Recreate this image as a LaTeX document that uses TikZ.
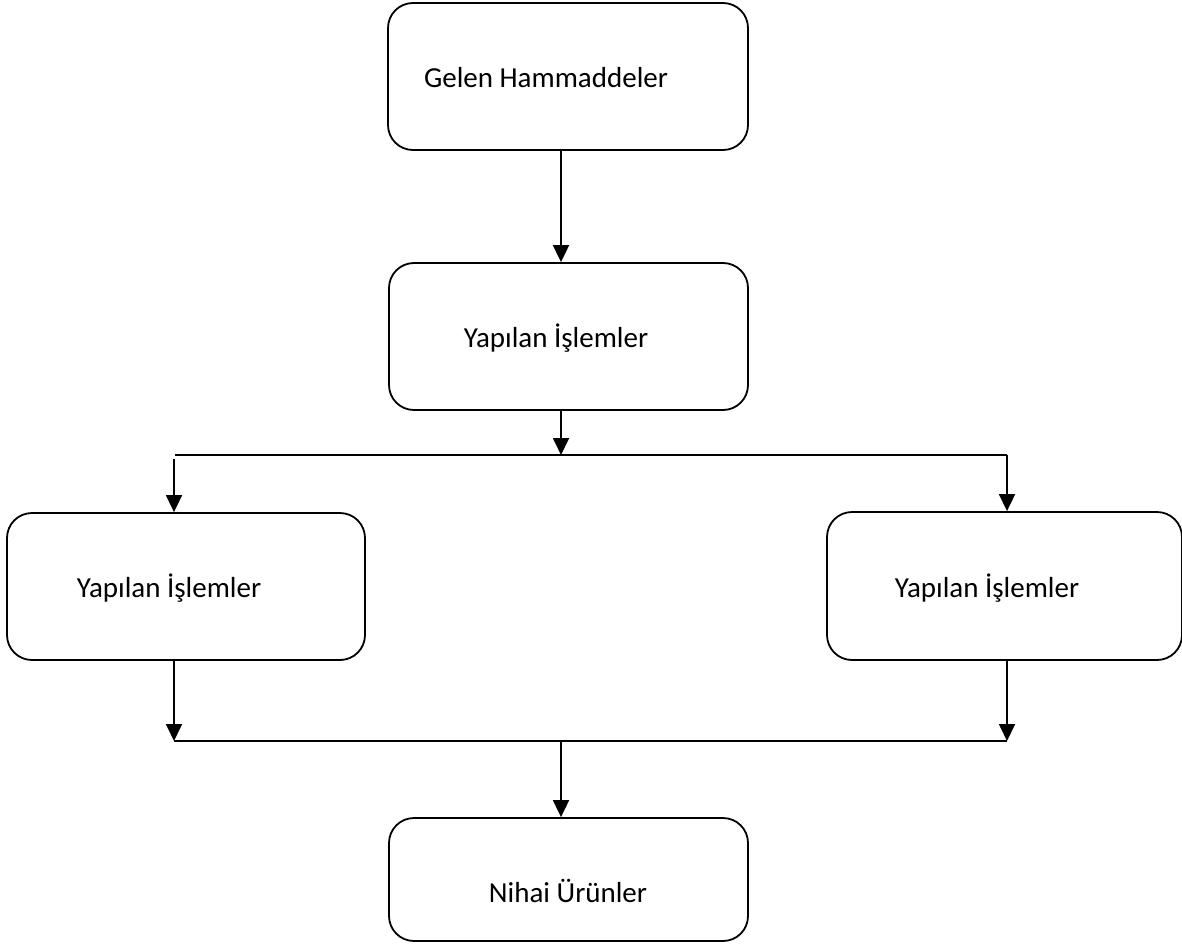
\documentclass[tikz,border=0pt]{standalone}
\usepackage{fontspec}
\setmainfont{Carlito}
\usetikzlibrary{arrows.meta}
\begin{document}
\begin{tikzpicture}[x=1pt,y=-1pt,
  box/.style={draw,line width=1.8pt,rounded corners=25pt,inner sep=0pt},
  lbl/.style={font=\fontsize{29}{35}\selectfont,inner sep=0pt},
  conn/.style={line width=1.8pt},
  arr/.style={line width=1.8pt,-{Triangle[width=16pt,length=17pt]}}]
\useasboundingbox (0,0) rectangle (1182,944);
\node[box,minimum width=360pt,minimum height=147pt] (b1) at (568,76.5) {};
\node[box,minimum width=359pt,minimum height=147pt] (b2) at (568.5,336.5) {};
\node[box,minimum width=358pt,minimum height=147pt] (bl) at (186,586.5) {};
\node[box,minimum width=355pt,minimum height=148pt] (br) at (1004.5,586) {};
\node[box,minimum width=359pt,minimum height=123pt] (b5) at (568.5,879.5) {};
\node[lbl] (t1) at (546,78) {Gelen Hammaddeler};
\node[lbl] (t2) at (556,338) {Yapılan İşlemler};
\node[lbl] (tl) at (169,588) {Yapılan İşlemler};
\node[lbl] (tr) at (987,588) {Yapılan İşlemler};
\node[lbl] (t5) at (568,891) {Nihai Ürünler};
\coordinate (c1) at (561,0);
\coordinate (j1) at (561,455);
\coordinate (jl) at (175,455);
\coordinate (jr) at (1007,455);
\coordinate (jl2) at (174,459);
\coordinate (k1) at (561,741);
\coordinate (kl) at (174,741);
\coordinate (kr) at (1007,741);
\draw[arr] (b1.south -| c1) -- (b2.north -| c1);
\draw[arr] (b2.south -| j1) -- (j1);
\draw[conn] (jl) -- (jr);
\draw[arr] (jl2) -- (bl.north -| jl2);
\draw[arr] (jr) -- (br.north -| jr);
\draw[arr] (bl.south -| kl) -- (kl);
\draw[arr] (br.south -| kr) -- (kr);
\draw[conn] (kl) -- (kr);
\draw[arr] (k1) -- (b5.north -| k1);
\end{tikzpicture}
\end{document}
